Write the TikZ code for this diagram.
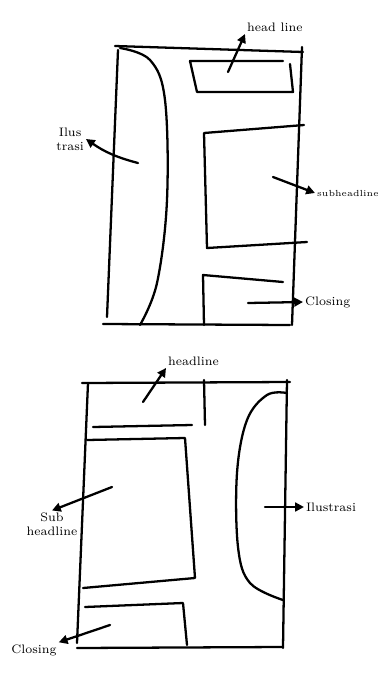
\documentclass[tikz,border=0pt]{standalone}
\usetikzlibrary{arrows.meta}

\tikzset{
  sketch/.style={line width=1.3pt, line cap=round, line join=round},
  pointer/.style={sketch, -{Triangle[length=5pt,width=5pt]}},
  note/.style={font=\scriptsize, inner sep=1pt, align=center},
}

\begin{document}
\begin{tikzpicture}[x=0.02cm, y=-0.02cm]
\useasboundingbox (0,0) rectangle (382,677);

% first layout
\draw[sketch] (115,46) -- (303,52);
\draw[sketch] (302,47) -- (292,325);
\draw[sketch] (103,324) -- (290,325);
\draw[sketch] (118,50) -- (107,317);
\draw[sketch] plot[smooth, tension=0.6] coordinates {(120,48) (150,60) (165,100) (167,200) (157,283) (140,325)};
\draw[sketch] (283,61) -- (190,61) -- (197,92) -- (293,92) -- (290,64);
\draw[sketch] (304,125) -- (204,133) -- (207,248) -- (307,242);
\draw[sketch] (283,282) -- (203,275) -- (204,325);

\coordinate (hlA) at (228,72);
\coordinate (ilA) at (138,163);
\coordinate (shA) at (273,177);
\coordinate (clA) at (248,303);
\node[note, anchor=south west] (hl) at (245,34) {head line};
\node[note, anchor=east] (il) at (86,139) {Ilus\\trasi};
\node[note, font=\tiny, anchor=west] (sh) at (315,193) {subheadline};
\node[note, anchor=west] (cl) at (303,302) {Closing};
\draw[pointer] (hlA) -- (hl.south west);
\draw[pointer] (ilA) to[bend left=10] (il.east);
\draw[pointer] (shA) -- (sh.west);
\draw[pointer] (clA) -- (cl.west);

% second layout
\draw[sketch] (82,383) -- (290,382);
\draw[sketch] (287,380) -- (283,648);
\draw[sketch] (88,383) -- (77,643);
\draw[sketch] (77,648) -- (282,647);
\draw[sketch] (204,380) -- (205,425);
\draw[sketch] (93,427) -- (192,425);
\draw[sketch] (87,440) -- (185,438) -- (195,578) -- (83,588);
\draw[sketch] (85,607) -- (183,603) -- (187,645);
\draw[sketch] plot[smooth, tension=0.6] coordinates {(287,393) (267,395) (247,420) (237,473) (238,547) (250,583) (283,600)};

\coordinate (hlB) at (143,402);
\coordinate (shB) at (112,487);
\coordinate (ilB) at (265,507);
\coordinate (clB) at (110,625);
\node[note, anchor=south west] (hl2) at (166,368) {headline};
\node[note] (sh2) at (52,524) {Sub\\headline};
\node[note, anchor=west] (il2) at (304,507) {Ilustrasi};
\node[note] (cl2) at (34,650) {Closing};
\draw[pointer] (hlB) -- (hl2.south west);
\draw[pointer] (shB) -- (sh2.north);
\draw[pointer] (ilB) -- (il2.west);
\draw[pointer] (clB) -- (cl2.north east);
\end{tikzpicture}
\end{document}
